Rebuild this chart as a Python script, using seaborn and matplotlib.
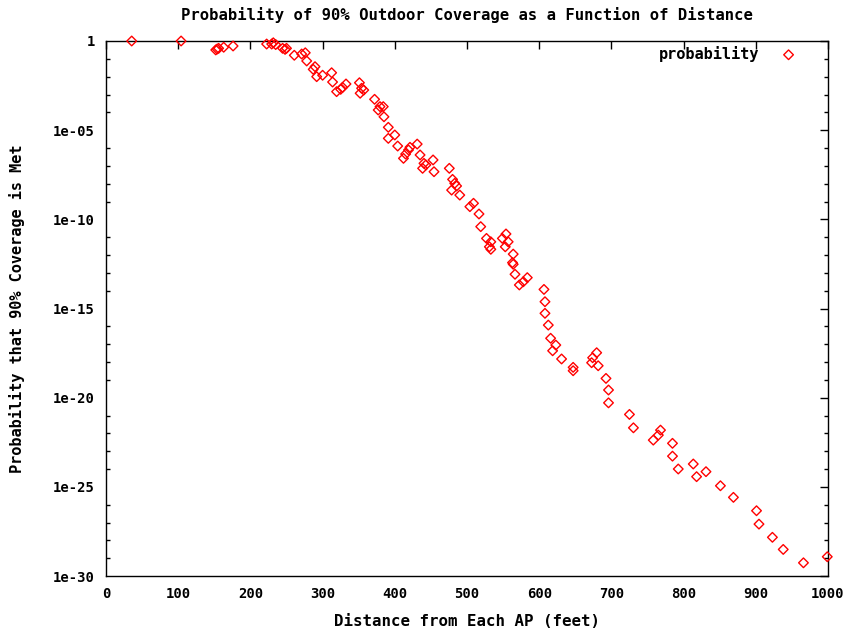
import numpy as np
import pandas as pd
import matplotlib
matplotlib.use("Agg")
import matplotlib.pyplot as plt
import matplotlib.ticker as mticker
import seaborn as sns

# Data (distance in feet, log10 of probability)
distance = [35.6, 104, 152, 154, 156, 163, 176, 222.5, 229.5, 231.7, 235, 244.6, 248, 250,
            260.8, 271, 276, 278, 287, 289.5, 291.8, 300, 312.5, 313.8, 319.4, 325, 327.7,
            332.4, 351, 354, 357, 352, 372, 377, 379.5, 384, 385, 391, 400, 391, 404, 412,
            415, 419, 421, 431, 435, 438.5, 440.4, 443, 453, 454.3, 475.5, 480, 483, 485.6,
            478.7, 490, 504, 509, 516.6, 519, 527, 533, 531, 533, 549, 554, 557, 553, 564,
            564, 563, 566.5, 572.5, 578, 583.5, 606.6, 608, 608, 612.6, 615.8, 623, 618.6,
            631, 647, 647, 672.6, 674, 679.6, 681.7, 692.5, 696, 696, 725, 730.5, 758, 765,
            768, 784.6, 784.6, 792.6, 813.4, 818, 831, 851, 869, 901, 904.4, 923, 938, 966,
            999]
log10_probability = [0, 0, -0.5, -0.45, -0.41, -0.35, -0.28, -0.17, -0.17, -0.1, -0.2, -0.41,
                     -0.47, -0.41, -0.8, -0.73, -0.66, -1.12, -1.59, -1.44, -2.0, -1.92, -1.78,
                     -2.3, -2.84, -2.71, -2.6, -2.41, -2.34, -2.65, -2.75, -2.93, -3.27, -3.87,
                     -3.68, -3.68, -4.25, -4.84, -5.27, -5.46, -5.89, -6.58, -6.34, -6.11, -5.96,
                     -5.78, -6.39, -7.14, -6.86, -6.95, -6.67, -7.33, -7.14, -7.76, -7.98, -8.13,
                     -8.36, -8.64, -9.29, -9.1, -9.7, -10.41, -11.07, -11.26, -11.54, -11.68,
                     -11.07, -10.82, -11.26, -11.54, -11.95, -12.52, -12.43, -13.08, -13.68,
                     -13.5, -13.27, -13.93, -14.62, -15.27, -15.93, -16.67, -17.05, -17.37,
                     -17.83, -18.3, -18.49, -18.04, -17.76, -17.48, -18.21, -18.92, -19.57,
                     -20.29, -20.94, -21.69, -22.38, -22.1, -21.82, -22.56, -23.28, -24.0,
                     -23.72, -24.43, -24.15, -24.94, -25.59, -26.34, -27.09, -27.83, -28.51,
                     -29.26, -28.92]

x_ticks = [0, 100, 200, 300, 400, 500, 600, 700, 800, 900, 1000]
y_ticks = [1e-30, 1e-25, 1e-20, 1e-15, 1e-10, 1e-05, 1]
y_tick_labels = ["1e-30", "1e-25", "1e-20", "1e-15", "1e-10", "1e-05", "1"]

title = "Probability of 90% Outdoor Coverage as a Function of Distance"
x_label = "Distance from Each AP (feet)"
y_label = "Probability that 90% Coverage is Met"
series_name = "probability"

df = pd.DataFrame({
    "distance": distance,
    "probability": [10.0 ** v for v in log10_probability],
})

sns.set_style("white")
plt.rcParams["font.family"] = ["DejaVu Sans Mono", "DejaVu Sans"]
plt.rcParams["font.weight"] = "bold"
plt.rcParams["text.color"] = "black"
plt.rcParams["axes.labelcolor"] = "black"
plt.rcParams["xtick.color"] = "black"
plt.rcParams["ytick.color"] = "black"

fig = plt.figure(figsize=(8.54, 6.33), dpi=100)
ax = fig.add_axes([106 / 854, 1 - 576 / 633, (828 - 106) / 854, (576 - 41) / 633])

sns.scatterplot(data=df, x="distance", y="probability", color="#ff0000",
                marker="D", s=24, linewidth=1.0, label=series_name,
                ax=ax, clip_on=False, zorder=5)
for coll in ax.collections:
    coll.set_facecolor("none")
    coll.set_edgecolor("#ff0000")
    coll.set_linewidth(1.0)

ax.set_yscale("log")
ax.set_xlim(0, 1000)
ax.set_ylim(1e-30, 1)

ax.xaxis.set_major_locator(mticker.FixedLocator(x_ticks))
ax.xaxis.set_major_formatter(mticker.FixedFormatter([str(t) for t in x_ticks]))
ax.yaxis.set_major_locator(mticker.FixedLocator(y_ticks))
ax.yaxis.set_major_formatter(mticker.FixedFormatter(y_tick_labels))
ax.yaxis.set_minor_locator(mticker.FixedLocator([10.0 ** (-k) for k in range(0, 31)]))
ax.yaxis.set_minor_formatter(mticker.NullFormatter())

ax.tick_params(which="major", direction="in", length=6, width=1, top=True, right=True,
               labelsize=10, pad=8, colors="black")
ax.tick_params(which="minor", direction="in", length=3, width=1, left=True, right=True,
               colors="black")
for s in ax.spines.values():
    s.set_visible(True)
    s.set_color("black")
    s.set_linewidth(1)
for lab in ax.get_xticklabels() + ax.get_yticklabels():
    lab.set_fontweight("bold")
    lab.set_color("black")

ax.set_xlabel(x_label, fontsize=11.3, fontweight="bold", labelpad=9, color="black")
ax.set_ylabel(y_label, fontsize=11, fontweight="bold", labelpad=20, color="black")
ax.set_title(title, fontsize=11.2, fontweight="bold", pad=15, color="black")

handles, labels = ax.get_legend_handles_labels()
leg = ax.legend(handles, labels, loc="upper right", frameon=False,
                markerfirst=False, fontsize=11, handletextpad=0.9,
                bbox_to_anchor=(0.975, 1.0025), borderaxespad=0)
for t in leg.get_texts():
    t.set_fontweight("bold")
    t.set_color("black")
for h in leg.legend_handles:
    h.set_facecolor("none")
    h.set_edgecolor("#ff0000")

ax.grid(False)
fig.savefig("out.png", dpi=100)
